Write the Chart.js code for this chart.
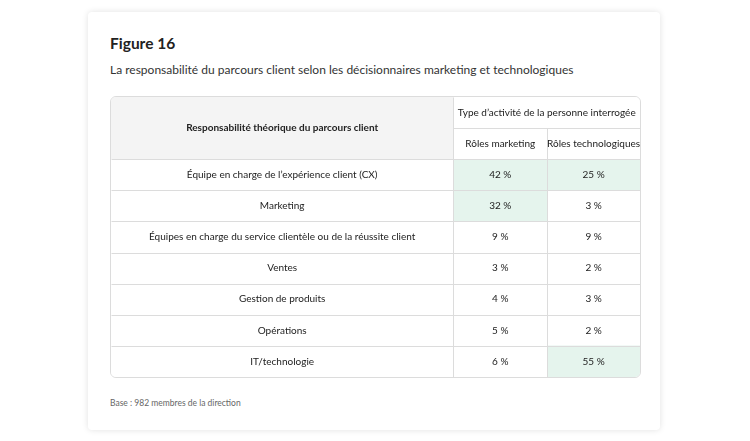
<!DOCTYPE html>
<html><head><meta charset="utf-8">
<script src="https://cdn.jsdelivr.net/npm/chart.js@4/dist/chart.umd.min.js"></script>
<style>
body{margin:0;background:#fff;font-family:Lato,sans-serif;}
#card{position:absolute;left:88px;top:12px;width:572px;height:418px;background:#fff;border-radius:4px;box-shadow:0 0 6px rgba(0,0,0,0.12);}
#t{position:absolute;left:22px;top:22px;font-size:15.5px;font-weight:700;color:#222;}
#s{position:absolute;left:22px;top:50px;font-size:12px;color:#333;}
#b{position:absolute;left:22px;top:386px;font-size:8.5px;color:#666;}
#wrap{position:absolute;left:110px;top:96px;width:531px;height:282px;border:1px solid #dcdcdc;border-radius:6px;overflow:hidden;box-sizing:border-box;}
</style></head><body>
<div id="card"><div id="t">Figure 16</div>
<div id="s">La responsabilité du parcours client selon les décisionnaires marketing et technologiques</div>
<div id="b">Base : 982 membres de la direction</div></div>
<div id="wrap"><canvas id="c"></canvas></div>
<script>
const categories=["Équipe en charge de l’expérience client (CX)","Marketing","Équipes en charge du service clientèle ou de la réussite client","Ventes","Gestion de produits","Opérations","IT/technologie"];
const marketing=[42,32,9,3,4,5,6];
const tech=[25,3,9,2,3,2,55];
const highlightM=[true,true,false,false,false,false,false];
const highlightT=[true,false,false,false,false,false,true];
const headMain="Responsabilité théorique du parcours client";
const headGroup="Type d’activité de la personne interrogée";
const headM="Rôles marketing", headT="Rôles technologiques";
const C0=0,C1=343,C2=437,C3=530;
const rows=["h1","h2",...categories];
const green="#e5f4ed",gray="#f4f4f4";
const ds=[
 {data:rows.map(()=>[C0,C1]),backgroundColor:rows.map((r,i)=>i<2?gray:"#fff")},
 {data:rows.map(()=>[C1,C2]),backgroundColor:rows.map((r,i)=>i<2?"#fff":(highlightM[i-2]?green:"#fff"))},
 {data:rows.map(()=>[C2,C3]),backgroundColor:rows.map((r,i)=>i<2?"#fff":(highlightT[i-2]?green:"#fff"))}
].map(d=>Object.assign(d,{barPercentage:1,categoryPercentage:1,borderWidth:0,grouped:false}));
const plug={id:'tbl',afterDatasetsDraw(ch){
 const ctx=ch.ctx,x=ch.scales.x,y=ch.scales.y;
 const h=y.getPixelForValue(1)-y.getPixelForValue(0);
 const top=i=>y.getPixelForValue(i)-h/2;
 ctx.save();ctx.strokeStyle="#dcdcdc";ctx.lineWidth=1;
 const line=(a,b,c,d)=>{ctx.beginPath();ctx.moveTo(Math.round(a)+.5,Math.round(b)+.5);ctx.lineTo(Math.round(c)+.5,Math.round(d)+.5);ctx.stroke();};
 line(x.getPixelForValue(C2),top(1),x.getPixelForValue(C2),top(rows.length));
 line(x.getPixelForValue(C1),top(0),x.getPixelForValue(C1),top(rows.length));
 line(x.getPixelForValue(C1),top(1),x.getPixelForValue(C3),top(1));
 for(let i=2;i<rows.length;i++)line(x.getPixelForValue(C0),top(i),x.getPixelForValue(C3),top(i));
 ctx.fillStyle="#222";ctx.textAlign="center";ctx.textBaseline="middle";
 const cx=(a,b)=>(x.getPixelForValue(a)+x.getPixelForValue(b))/2;
 ctx.font="700 10px Lato";
 ctx.fillText(headMain,cx(C0,C1),top(1));
 ctx.font="10px Lato";
 ctx.fillText(headGroup,cx(C1,C3),y.getPixelForValue(0));
 ctx.fillText(headM,cx(C1,C2),y.getPixelForValue(1));
 ctx.fillText(headT,cx(C2,C3),y.getPixelForValue(1));
 categories.forEach((c,i)=>{const yy=y.getPixelForValue(i+2);
  ctx.fillText(c,cx(C0,C1),yy);
  ctx.fillText(marketing[i]+" %",cx(C1,C2),yy);
  ctx.fillText(tech[i]+" %",cx(C2,C3),yy);});
 ctx.restore();}};
new Chart(document.getElementById('c'),{type:'bar',data:{labels:rows,datasets:ds},plugins:[plug],
 options:{indexAxis:'y',responsive:true,maintainAspectRatio:false,animation:false,
 layout:{padding:0},plugins:{legend:{display:false},tooltip:{enabled:false}},
 scales:{x:{display:false,min:C0,max:C3},y:{display:false}}}});
</script></body></html>
